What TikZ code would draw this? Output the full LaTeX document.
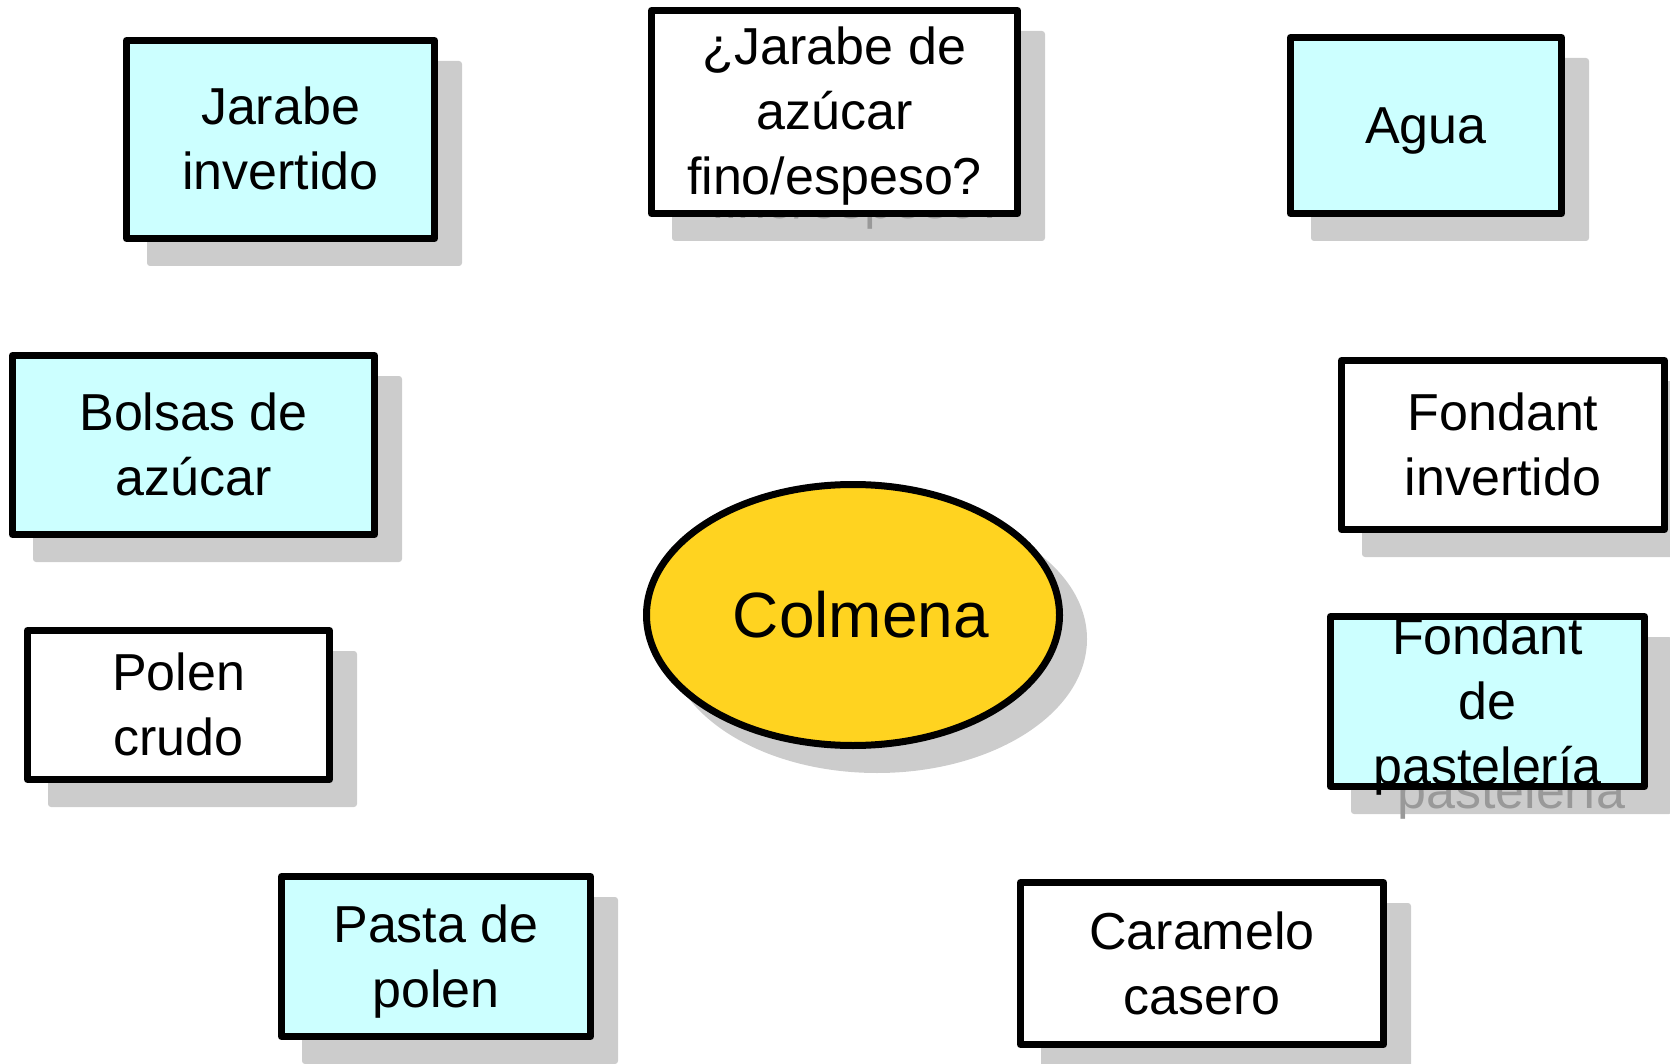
\documentclass[tikz,border=0pt]{standalone}
\usepackage{fontspec}
\setmainfont{Liberation Sans}
\usetikzlibrary{shapes.geometric}
\definecolor{boxcyan}{HTML}{CCFFFF}
\definecolor{hiveyellow}{HTML}{FFD320}
\definecolor{shadowgray}{HTML}{CCCCCC}
\definecolor{shadowink}{HTML}{999999}
\newcommand\ms{\rule[-14.5pt]{0pt}{65pt}}
\newcommand\msbig{\rule[-13pt]{0pt}{71pt}}
% #1 name, #2 x, #3 y, #4 outer width, #5 outer height, #6 fill, #7 text, #8 extra shadow options
\newcommand\itemnode[8]{%
  \node[itemshadow, minimum width=#4pt, minimum height=#5pt, #8]
        (#1-shadow) at (#2+24,#3+24) {};
  \node[itembox, fill=#6, minimum width=#4pt-7pt, minimum height=#5pt-7pt,
        label={[boxtxt]center:#7}] (#1) at (#2,#3) {};
}
\begin{document}
\begin{tikzpicture}[x=1pt,y=-1pt,
  boxtxt/.style={align=center, inner sep=0pt, font=\fontsize{52}{65}\selectfont},
  shadowtxt/.style={boxtxt, text=shadowink, yshift=-65pt},
  itembox/.style={draw=black, line width=7pt, line join=round, rectangle,
                  inner sep=0pt, outer sep=0pt},
  itemshadow/.style={fill=shadowgray, rectangle, rounded corners=3pt,
                     inner sep=0pt, outer sep=0pt},
]
\useasboundingbox (0,0) rectangle (1670,1064);

\itemnode{jarabeinv}{280.5}{139.5}{315}{205}{boxcyan}{\ms Jarabe\\\ms invertido}{}
\itemnode{jarabeaz}{834.5}{112}{373}{210}{white}{\ms ¿Jarabe de\\\ms azúcar\\\ms fino/espeso?}{label={[shadowtxt]center:\ms fino/espeso?}}
\itemnode{agua}{1426}{125.5}{278}{183}{boxcyan}{\ms Agua}{}
\itemnode{bolsas}{193.5}{445}{369}{186}{boxcyan}{\ms Bolsas de\\\ms azúcar}{}
\itemnode{fondantinv}{1503}{445}{330}{176}{white}{\ms Fondant\\\ms invertido}{}
\itemnode{polen}{178.5}{705}{309}{156}{white}{\ms Polen\\\ms crudo}{}
\itemnode{fondantpast}{1487.5}{701.5}{321}{177}{boxcyan}{\ms Fondant\\\ms de\\\ms pastelería}{label={[shadowtxt]center:\ms pastelería}}
\itemnode{pasta}{436}{956.5}{316}{167}{boxcyan}{\ms Pasta de\\\ms polen}{}
\itemnode{caramelo}{1202}{963.5}{370}{169}{white}{\ms Caramelo\\\ms casero}{}

\node[ellipse, fill=shadowgray, minimum width=420pt, minimum height=268pt,
      inner sep=0pt] (hive-shadow) at (877,639) {};
\node[ellipse, draw=black, line width=7pt, fill=hiveyellow, minimum width=413pt,
      minimum height=261pt, inner sep=0pt,
      label={[inner sep=0pt, xshift=8pt, font=\fontsize{64}{71}\selectfont]center:\msbig Colmena}]
      (hive) at (853,615) {};
\end{tikzpicture}
\end{document}
